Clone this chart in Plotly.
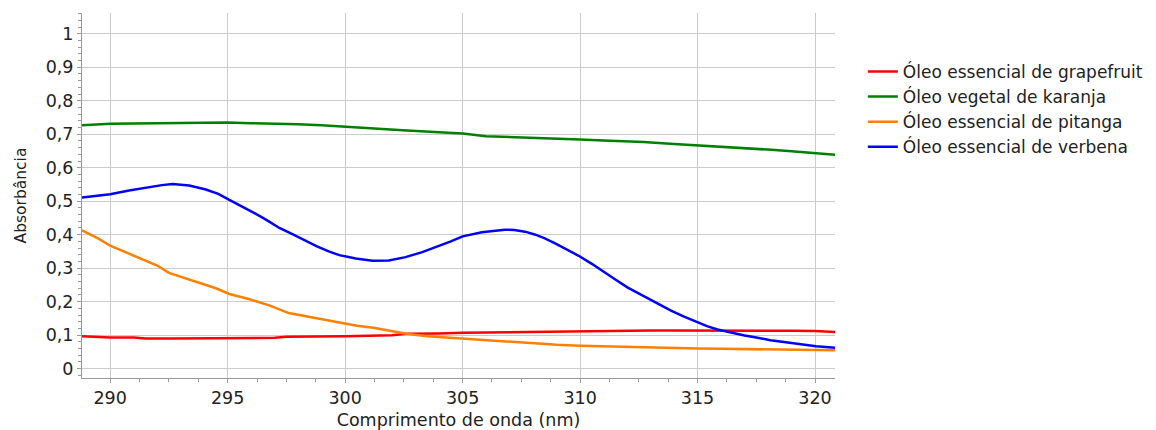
import plotly.graph_objects as go

# Wavelengths (nm) and absorbance values
wl_grapefruit = [288.8, 289.5, 290, 291, 291.5, 292.5, 293.5, 294.5, 295, 296, 297, 297.5, 298.5, 300, 301, 302, 302.6, 303, 304, 305, 306, 307, 308, 309, 310, 311, 312, 313, 314, 315, 316, 317, 318, 318.5, 319, 320, 320.85]
ab_grapefruit = [0.097, 0.095, 0.093, 0.093, 0.090, 0.090, 0.090, 0.090, 0.092, 0.092, 0.092, 0.095, 0.095, 0.097, 0.098, 0.100, 0.104, 0.104, 0.105, 0.107, 0.108, 0.110, 0.111, 0.112, 0.112, 0.112, 0.113, 0.114, 0.114, 0.114, 0.115, 0.115, 0.115, 0.115, 0.113, 0.112, 0.109]

wl_karanja = [288.8, 290, 291, 292, 293, 294, 295, 296, 297, 298, 299, 300, 301, 302.45, 304, 305, 306, 307, 308, 309, 310, 311, 312.7, 314, 315, 316, 317, 318, 319, 320, 320.85]
ab_karanja = [0.727, 0.731, 0.732, 0.733, 0.735, 0.735, 0.735, 0.733, 0.732, 0.730, 0.727, 0.722, 0.719, 0.712, 0.706, 0.702, 0.694, 0.692, 0.689, 0.686, 0.684, 0.681, 0.677, 0.671, 0.667, 0.664, 0.659, 0.654, 0.649, 0.643, 0.639]

wl_pitanga = [288.8, 289.5, 290, 291, 292, 292.5, 293.5, 294.5, 295.07, 295.9, 296.8, 297.6, 298.5, 299.75, 300.5, 301.2, 302, 302.6, 303.5, 305.1, 306, 307, 308, 309, 310, 311, 312, 313, 314, 315, 316, 317, 318, 319, 320, 320.85]
ab_pitanga = [0.413, 0.388, 0.367, 0.337, 0.308, 0.286, 0.262, 0.240, 0.223, 0.208, 0.188, 0.166, 0.154, 0.137, 0.128, 0.122, 0.112, 0.104, 0.097, 0.089, 0.084, 0.079, 0.075, 0.071, 0.068, 0.066, 0.064, 0.063, 0.061, 0.060, 0.059, 0.058, 0.057, 0.056, 0.056, 0.055]

wl_verbena = [288.8, 289.5, 290, 290.8, 291.5, 292.2, 292.65, 293.36, 294.07, 294.6, 295.07, 295.6, 296.2, 296.7, 297.2, 297.8, 298.3, 298.8, 299.3, 299.75, 300.45, 301.16, 301.86, 302.57, 303.28, 303.98, 304.5, 305.0, 305.82, 306.3, 306.8, 307.2, 307.66, 308.1, 308.5, 309.0, 309.35, 309.94, 310.5, 311.04, 311.5, 312.03, 312.5, 313.02, 313.5, 313.87, 314.4, 314.96, 315.4, 315.85, 316.5, 317.0, 317.5, 318.1, 318.76, 319.4, 320.04, 320.85]
ab_verbena = [0.511, 0.516, 0.521, 0.532, 0.541, 0.548, 0.551, 0.547, 0.535, 0.522, 0.504, 0.485, 0.462, 0.442, 0.420, 0.400, 0.382, 0.365, 0.350, 0.339, 0.329, 0.322, 0.323, 0.333, 0.348, 0.366, 0.380, 0.395, 0.407, 0.411, 0.415, 0.414, 0.409, 0.400, 0.389, 0.372, 0.359, 0.337, 0.313, 0.289, 0.266, 0.242, 0.224, 0.204, 0.187, 0.173, 0.156, 0.139, 0.127, 0.117, 0.106, 0.099, 0.093, 0.085, 0.079, 0.073, 0.067, 0.062]

names = ["Óleo essencial de grapefruit", "Óleo vegetal de karanja",
         "Óleo essencial de pitanga", "Óleo essencial de verbena"]
colors = ["#ff0000", "#008000", "#ff8000", "#0000ff"]
xs = [wl_grapefruit, wl_karanja, wl_pitanga, wl_verbena]
ys = [ab_grapefruit, ab_karanja, ab_pitanga, ab_verbena]

x_ticks = [290, 295, 300, 305, 310, 315, 320]
y_ticks = [0, 0.1, 0.2, 0.3, 0.4, 0.5, 0.6, 0.7, 0.8, 0.9, 1]

FONT = "DejaVu Sans"

fig = go.Figure()
for x, y, n, c in zip(xs, ys, names, colors):
    fig.add_trace(go.Scatter(x=x, y=y, name=n, mode="lines",
                             line=dict(color=c, width=2.5)))

fig.update_layout(
    width=1156, height=430,
    margin=dict(l=74, r=329, t=5, b=60, autoexpand=False),
    paper_bgcolor="white", plot_bgcolor="white",
    separators=",.",
    font=dict(family=FONT, size=17.5, color="#222"),
    showlegend=True,
    legend=dict(x=1.037, xanchor="left", y=0.888, yanchor="top",
                font=dict(family=FONT, size=17, color="#222"),
                itemwidth=30, tracegroupgap=0, bgcolor="rgba(0,0,0,0)"),
    xaxis=dict(range=[288.8, 320.85], tickvals=x_ticks, automargin=False,
               showgrid=True, gridcolor="#cccccc", gridwidth=1,
               showline=True, linecolor="#999999", linewidth=1,
               ticks="outside", ticklen=4, tickcolor="#999999",
               minor=dict(dtick=1.25, tick0=290, ticks="outside", ticklen=3,
                          tickcolor="#999999", showgrid=False),
               tickfont=dict(size=17.5), zeroline=False,
               title=dict(text="Comprimento de onda (nm)", font=dict(size=17.5), standoff=6)),
    yaxis=dict(range=[-0.028, 1.062], tickvals=y_ticks, automargin=False,
               showgrid=True, gridcolor="#cccccc", gridwidth=1,
               showline=True, linecolor="#999999", linewidth=1,
               ticks="outside", ticklen=4, tickcolor="#999999",
               minor=dict(dtick=0.02, tick0=0, ticks="outside", ticklen=3,
                          tickcolor="#999999", showgrid=False),
               tickfont=dict(size=17.5), zeroline=False,
               title=dict(text="Absorbância", font=dict(size=15.5), standoff=15)),
)

fig.write_html("out.html")
